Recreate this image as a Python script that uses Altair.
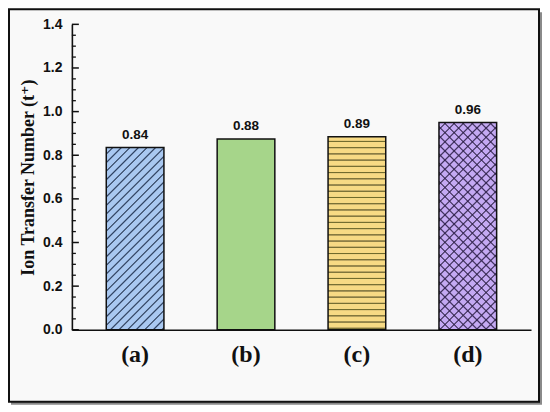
import math
import altair as alt
import pandas as pd

# ---- data ----
categories = ["(a)", "(b)", "(c)", "(d)"]
values = [0.835, 0.875, 0.885, 0.95]
labels = ["0.84", "0.88", "0.89", "0.96"]
fills = ["#a9c8f1", "#a6d58a", "#f7da84", "#c4a9f3"]
y_major = [0.0, 0.2, 0.4, 0.6, 0.8, 1.0, 1.2, 1.4]
y_minor = [0.05, 0.1, 0.15, 0.25, 0.3, 0.35, 0.45, 0.5, 0.55, 0.65, 0.7, 0.75,
           0.85, 0.9, 0.95, 1.05, 1.1, 1.15, 1.25, 1.3, 1.35]

W, H, YMAX = 460, 306, 1.4
P_IN, P_OUT = 0.48, 0.31
step = W / (len(categories) - P_IN + 2 * P_OUT)
bw = step * (1 - P_IN)

df = pd.DataFrame({"cat": categories, "value": values, "label": labels})

x_enc = alt.X(
    "cat:N", sort=categories,
    scale=alt.Scale(domain=categories, paddingInner=P_IN, paddingOuter=P_OUT),
    axis=alt.Axis(title=None, labelAngle=0, ticks=False, tickSize=0, labelPadding=13,
                  labelFont="Liberation Serif", labelFontWeight="bold", labelFontSize=24,
                  labelColor="#111", domainColor="#111", domainWidth=1.6, grid=False,
                  zindex=2),
)
y_enc = alt.Y(
    "value:Q",
    scale=alt.Scale(domain=[0, YMAX], nice=False),
    axis=alt.Axis(title="Ion Transfer Number (t⁺)", values=y_major, format=".1f",
                  ticks=False, tickSize=0, labelPadding=10,
                  labelFont="Liberation Sans", labelFontWeight="bold", labelFontSize=14,
                  labelColor="#111", titleFont="Liberation Serif, DejaVu Serif",
                  titleFontWeight="bold", titleFontSize=18, titleColor="#111",
                  titlePadding=5, domainColor="#111", domainWidth=1.6, grid=False,
                  zindex=2),
)


def stripes(line, length_px, period, p1, p2, lw=1.0):
    """Soft-edged thin lines on a transparent background (reduces moire)."""
    clear = "rgba(0,0,0,0)"
    n = max(1, round(length_px / period))
    t = lw / length_px
    stops = []
    for i in range(n):
        a, b = i / n, (i + 1) / n
        m = b - 1.5 * t
        stops += [(a, clear), (m - t, clear), (m, line), (m + t, clear), (b, clear)]
    return alt.LinearGradient(
        gradient="linear",
        stops=[alt.GradientStop(offset=round(o, 5), color=c) for o, c in stops],
        x1=p1[0], y1=p1[1], x2=p2[0], y2=p2[1],
    )


def diag(line, h, period, mirror=False):
    w = bw
    s = (w + h) / (w * w + h * h)
    px, py = w * s, h * s
    L = (w + h) / math.sqrt(2)
    if mirror:
        return stripes(line, L, period, (1, 0), (1 - px, py))
    return stripes(line, L, period, (0, 0), (px, py))


def hpx(v):
    return v / YMAX * H


base = alt.Chart(df)

one = alt.Data(values=[{"k": 1}])
shadow = alt.Chart(one).mark_rect(fill="#8a8a8a").encode(
    x=alt.value(-61), x2=alt.value(471), y=alt.value(-12), y2=alt.value(381))
frame = alt.Chart(one).mark_rect(fill="#f9f9f9", stroke="#111", strokeWidth=2).encode(
    x=alt.value(-63), x2=alt.value(468), y=alt.value(-15), y2=alt.value(378))

bars = base.mark_bar().encode(
    x=x_enc, y=y_enc,
    fill=alt.Fill("cat:N", scale=alt.Scale(domain=categories, range=fills), legend=None),
)

hatch_a = base.transform_filter(alt.datum.cat == "(a)").mark_bar(
    fill=diag("#2a4068", hpx(values[0]), 6.0)).encode(x=x_enc, y=y_enc)
hatch_c = base.transform_filter(alt.datum.cat == "(c)").mark_bar(
    fill=stripes("#6f6b2a", hpx(values[2]), 6.3, (0, 0), (0, 1))).encode(x=x_enc, y=y_enc)
hatch_d1 = base.transform_filter(alt.datum.cat == "(d)").mark_bar(
    fill=diag("#3f2d63", hpx(values[3]), 6.4)).encode(x=x_enc, y=y_enc)
hatch_d2 = base.transform_filter(alt.datum.cat == "(d)").mark_bar(
    fill=diag("#3f2d63", hpx(values[3]), 6.4, mirror=True)).encode(x=x_enc, y=y_enc)

outline = base.mark_bar(fillOpacity=0, stroke="#111", strokeWidth=1.5).encode(x=x_enc, y=y_enc)

text = base.mark_text(dy=-6, baseline="bottom", font="Liberation Sans", fontWeight="bold",
                      fontSize=13.5, color="#111").encode(x=x_enc, y=y_enc, text="label:N")

major = alt.Chart(pd.DataFrame({"value": y_major})).mark_rule(
    color="#111", strokeWidth=1.5).encode(y=y_enc, x=alt.value(0), x2=alt.value(7))
minor = alt.Chart(pd.DataFrame({"value": y_minor})).mark_rule(
    color="#111", strokeWidth=1.3).encode(y=y_enc, x=alt.value(0), x2=alt.value(4))

chart = alt.layer(
    shadow, frame, bars, hatch_a, hatch_c, hatch_d1, hatch_d2, outline, text, major, minor
).properties(width=W, height=H, padding=0, background="white").configure_view(strokeWidth=0)

chart.save("out.html", embed_options={"renderer": "svg", "actions": False})
